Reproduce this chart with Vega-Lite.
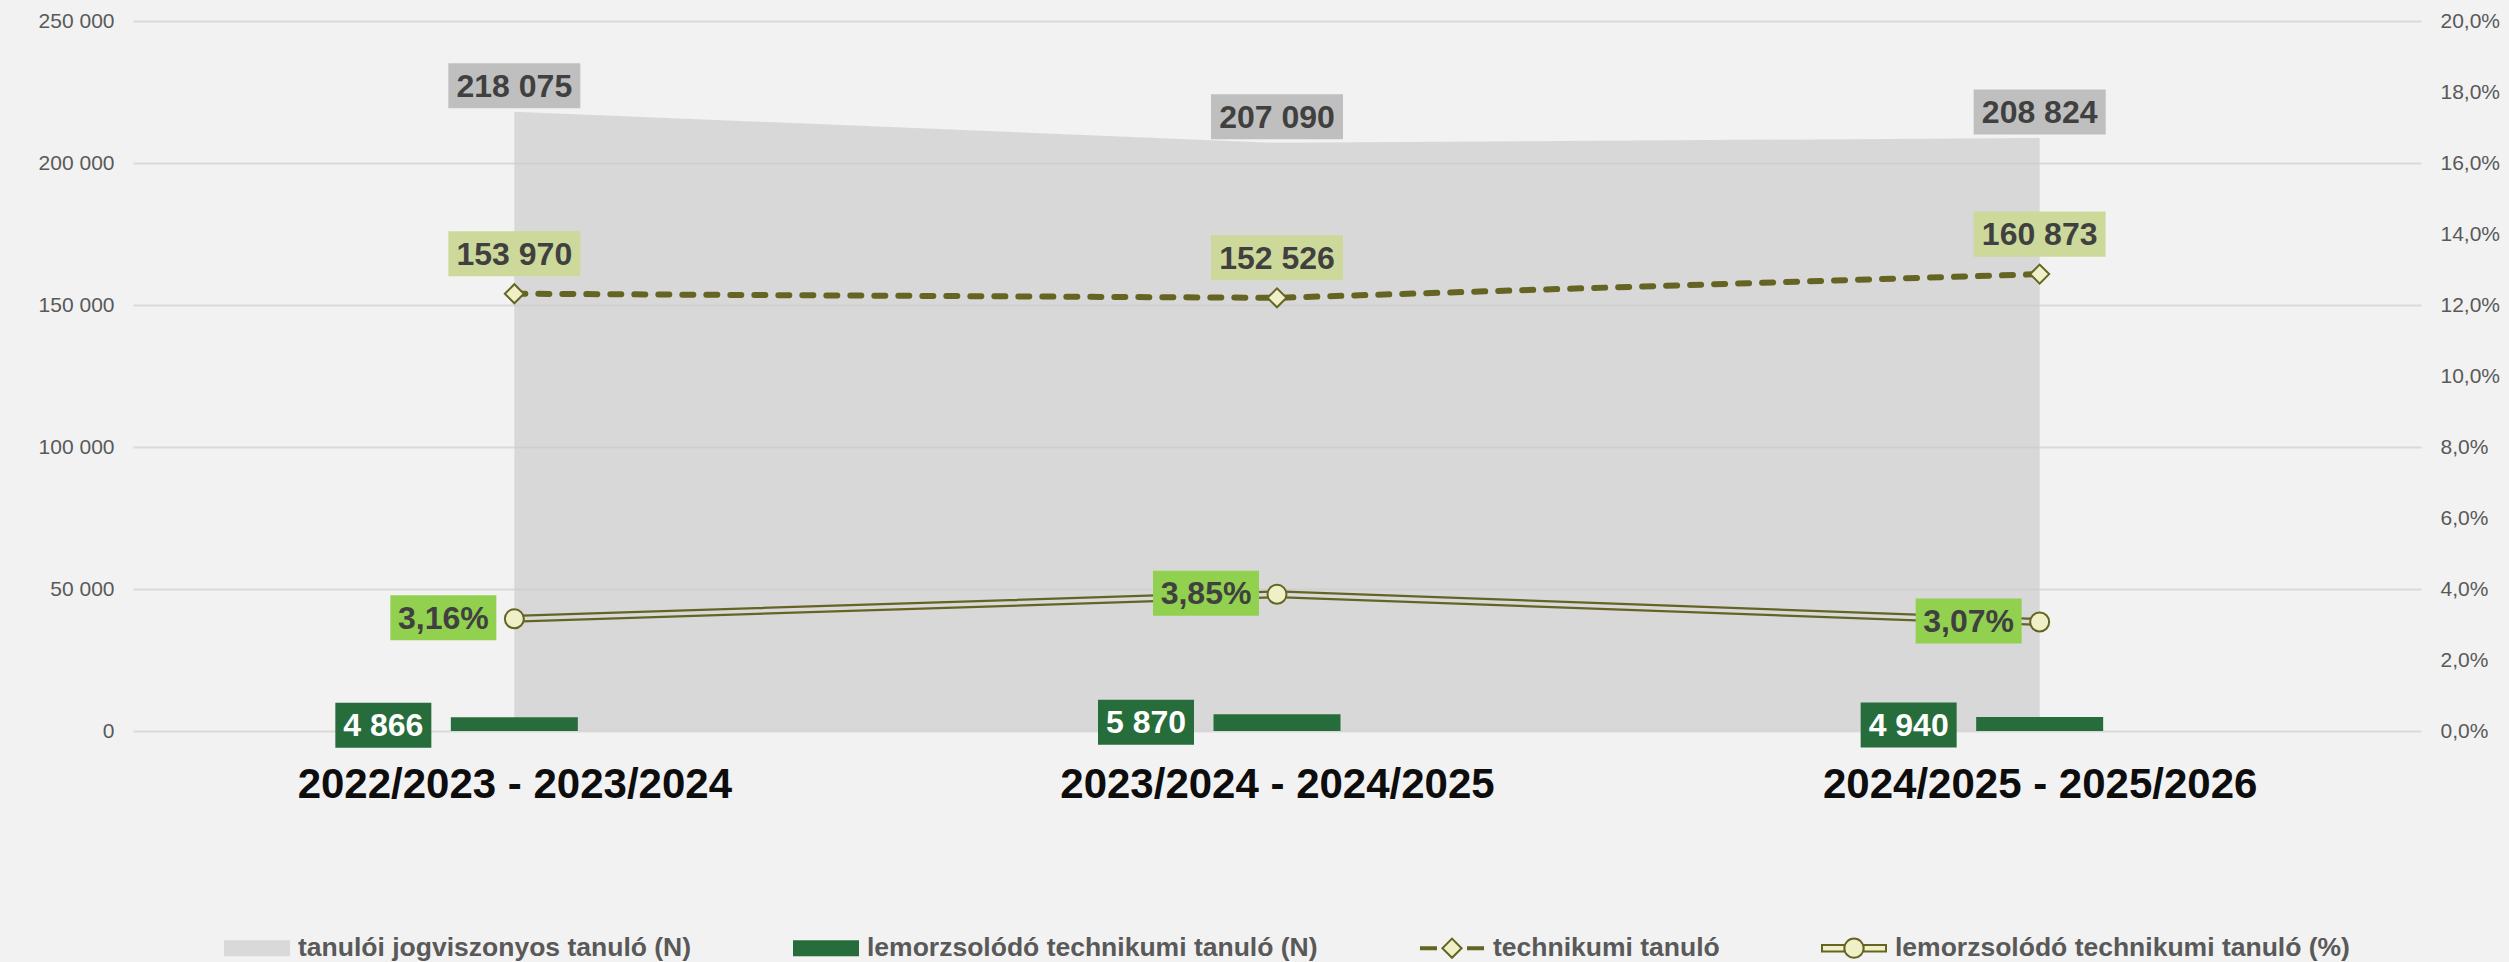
{
  "$schema": "https://vega.github.io/schema/vega-lite/v6.json",
  "width": 2288,
  "height": 710,
  "autosize": {"type": "none"},
  "padding": {"left": 133, "top": 21, "right": 88, "bottom": 231},
  "data": {
    "values": [
      {"year": "2022/2023 - 2023/2024", "total": 218075, "tech": 153970, "drop_n": 4866, "drop_pct": 0.0316},
      {"year": "2023/2024 - 2024/2025", "total": 207090, "tech": 152526, "drop_n": 5870, "drop_pct": 0.0385},
      {"year": "2024/2025 - 2025/2026", "total": 208824, "tech": 160873, "drop_n": 4940, "drop_pct": 0.0307}
    ]
  },
  "encoding": {
    "x": {
      "field": "year",
      "type": "nominal",
      "sort": null,
      "scale": {"type": "point", "padding": 0.5},
      "axis": {
        "title": null,
        "domain": false,
        "ticks": false,
        "labelAngle": 0,
        "labelFontSize": 42,
        "labelFontWeight": "bold",
        "labelColor": "#0d0d0d",
        "labelBaseline": "alphabetic",
        "labelPadding": 66,
        "labelLimit": 0,
        "labelOverlap": false,
        "labelFlush": false,
        "grid": false
      }
    }
  },
  "layer": [
    {
      "layer": [
        {
          "mark": {"type": "area", "color": "#c9c9c9", "opacity": 0.63},
          "encoding": {
            "y": {
              "field": "total",
              "type": "quantitative",
              "scale": {"domain": [0, 250000], "nice": false, "zero": true},
              "axis": {
                "orient": "left",
                "title": null,
                "values": [0, 50000, 100000, 150000, 200000, 250000],
                "format": ",d",
                "domain": false,
                "ticks": false,
                "grid": true,
                "gridColor": "#d9d9d9",
                "gridWidth": 2,
                "labelFontSize": 21,
                "labelColor": "#595959",
                "labelPadding": 19
              }
            }
          }
        },
        {
          "mark": {"type": "bar", "color": "#276d3b", "width": 127},
          "encoding": {"y": {"field": "drop_n", "type": "quantitative"}}
        },
        {
          "mark": {"type": "line", "color": "#646423", "strokeWidth": 6, "strokeDash": [11, 13], "strokeCap": "round"},
          "encoding": {"y": {"field": "tech", "type": "quantitative"}}
        },
        {
          "mark": {"type": "point", "shape": "diamond", "size": 361, "filled": true, "fill": "#f0f0c8", "stroke": "#646423", "strokeWidth": 2, "opacity": 1},
          "encoding": {"y": {"field": "tech", "type": "quantitative"}}
        },
        {
          "mark": {"type": "point", "shape": "M-1,-0.341H1V0.341H-1Z", "size": 17424, "filled": true, "fill": "#bfbfbf", "strokeWidth": 0, "opacity": 1, "yOffset": -26},
          "encoding": {"y": {"field": "total", "type": "quantitative"}}
        },
        {
          "mark": {"type": "text", "fontSize": 32, "fontWeight": "bold", "color": "#404040", "baseline": "middle", "align": "center", "yOffset": -25},
          "encoding": {
            "y": {"field": "total", "type": "quantitative"},
            "text": {"field": "total", "type": "quantitative", "format": ",d"}
          }
        },
        {
          "mark": {"type": "point", "shape": "M-1,-0.341H1V0.341H-1Z", "size": 17424, "filled": true, "fill": "#ccd99b", "strokeWidth": 0, "opacity": 1, "yOffset": -40},
          "encoding": {"y": {"field": "tech", "type": "quantitative"}}
        },
        {
          "mark": {"type": "text", "fontSize": 32, "fontWeight": "bold", "color": "#404040", "baseline": "middle", "align": "center", "yOffset": -39},
          "encoding": {
            "y": {"field": "tech", "type": "quantitative"},
            "text": {"field": "tech", "type": "quantitative", "format": ",d"}
          }
        },
        {
          "mark": {"type": "point", "shape": "M-1,-0.469H1V0.469H-1Z", "size": 9216, "filled": true, "fill": "#276d3b", "strokeWidth": 0, "opacity": 1, "xOffset": -131, "yOffset": 8},
          "encoding": {"y": {"field": "drop_n", "type": "quantitative"}}
        },
        {
          "mark": {"type": "text", "fontSize": 32, "fontWeight": "bold", "color": "#ffffff", "baseline": "middle", "align": "center", "xOffset": -131, "yOffset": 9},
          "encoding": {
            "y": {"field": "drop_n", "type": "quantitative"},
            "text": {"field": "drop_n", "type": "quantitative", "format": ",d"}
          }
        },
        {
          "data": {
            "values": [
              {"series": "tanulói jogviszonyos tanuló (N)"},
              {"series": "lemorzsolódó technikumi tanuló (N)"},
              {"series": "technikumi tanuló"},
              {"series": "lemorzsolódó technikumi tanuló (%)"}
            ]
          },
          "transform": [{"filter": "false"}],
          "mark": {"type": "point", "filled": true, "opacity": 1, "strokeWidth": 2},
          "encoding": {
            "shape": {
              "field": "series",
              "type": "nominal",
              "sort": null,
              "scale": {
                "domain": ["tanulói jogviszonyos tanuló (N)", "lemorzsolódó technikumi tanuló (N)", "technikumi tanuló", "lemorzsolódó technikumi tanuló (%)"],
                "range": [
                  "M-1,-0.22H1V0.22H-1Z",
                  "M-1,-0.22H1V0.22H-1Z",
                  "M-0.97,-0.03H-0.5V0.03H-0.97Z M0,-0.3L0.3,0L0,0.3L-0.3,0Z M0.5,-0.03H0.97V0.03H0.5Z",
                  "M-1,-0.1H-0.3V0.1H-1Z M0.3,-0.1H1V0.1H0.3Z M-0.3,0A0.3,0.3,0,1,1,0.3,0A0.3,0.3,0,1,1,-0.3,0Z"
                ]
              },
              "legend": {"orient": "none", "legendX": 91, "legendY": 894, "direction": "horizontal", "columns": 4, "columnPadding": 98, "symbolSize": 4096, "symbolStrokeWidth": 2, "labelOffset": 8, "labelFontSize": 26.5, "labelFontWeight": "bold", "labelColor": "#595959", "labelLimit": 0, "title": null, "padding": 0}
            },
            "fill": {
              "field": "series",
              "type": "nominal",
              "sort": null,
              "scale": {
                "domain": ["tanulói jogviszonyos tanuló (N)", "lemorzsolódó technikumi tanuló (N)", "technikumi tanuló", "lemorzsolódó technikumi tanuló (%)"],
                "range": ["#d9d9d9", "#276d3b", "#f0f0c8", "#f0f0c8"]
              },
              "legend": {"orient": "none", "legendX": 91, "legendY": 894, "direction": "horizontal", "columns": 4, "columnPadding": 98, "symbolSize": 4096, "symbolStrokeWidth": 2, "labelOffset": 8, "labelFontSize": 26.5, "labelFontWeight": "bold", "labelColor": "#595959", "labelLimit": 0, "title": null, "padding": 0}
            },
            "stroke": {
              "field": "series",
              "type": "nominal",
              "sort": null,
              "scale": {
                "domain": ["tanulói jogviszonyos tanuló (N)", "lemorzsolódó technikumi tanuló (N)", "technikumi tanuló", "lemorzsolódó technikumi tanuló (%)"],
                "range": ["#d9d9d9", "#276d3b", "#646423", "#646423"]
              },
              "legend": {"orient": "none", "legendX": 91, "legendY": 894, "direction": "horizontal", "columns": 4, "columnPadding": 98, "symbolSize": 4096, "symbolStrokeWidth": 2, "labelOffset": 8, "labelFontSize": 26.5, "labelFontWeight": "bold", "labelColor": "#595959", "labelLimit": 0, "title": null, "padding": 0}
            }
          }
        }
      ]
    },
    {
      "layer": [
        {
          "mark": {"type": "line", "color": "#646423", "strokeWidth": 8},
          "encoding": {
            "y": {
              "field": "drop_pct",
              "type": "quantitative",
              "scale": {"domain": [0, 0.2], "nice": false, "zero": true},
              "axis": {
                "orient": "right",
                "title": null,
                "values": [0, 0.02, 0.04, 0.06, 0.08, 0.1, 0.12, 0.14, 0.16, 0.18, 0.2],
                "format": ".1%",
                "domain": false,
                "ticks": false,
                "grid": false,
                "labelFontSize": 21,
                "labelColor": "#595959",
                "labelPadding": 19
              }
            }
          }
        },
        {
          "mark": {"type": "line", "color": "#d9d9d9", "strokeWidth": 3.5},
          "encoding": {"y": {"field": "drop_pct", "type": "quantitative"}}
        },
        {
          "mark": {"type": "point", "shape": "circle", "size": 361, "filled": true, "fill": "#f0f0c8", "stroke": "#646423", "strokeWidth": 2, "opacity": 1},
          "encoding": {"y": {"field": "drop_pct", "type": "quantitative"}}
        },
        {
          "mark": {"type": "point", "shape": "M-1,-0.4245H1V0.4245H-1Z", "size": 11236, "filled": true, "fill": "#92d050", "strokeWidth": 0, "opacity": 1, "xOffset": -71, "yOffset": -1},
          "encoding": {"y": {"field": "drop_pct", "type": "quantitative"}}
        },
        {
          "mark": {"type": "text", "fontSize": 32, "fontWeight": "bold", "color": "#404040", "baseline": "middle", "align": "center", "xOffset": -71, "yOffset": 0},
          "encoding": {
            "y": {"field": "drop_pct", "type": "quantitative"},
            "text": {"field": "drop_pct", "type": "quantitative", "format": ".2%"}
          }
        }
      ]
    }
  ],
  "resolve": {"scale": {"y": "independent"}},
  "config": {
    "background": "#f2f2f2",
    "font": "Liberation Sans",
    "view": {"stroke": null},
    "locale": {"number": {"decimal": ",", "thousands": " ", "grouping": [3], "currency": ["", ""]}}
  }
}
